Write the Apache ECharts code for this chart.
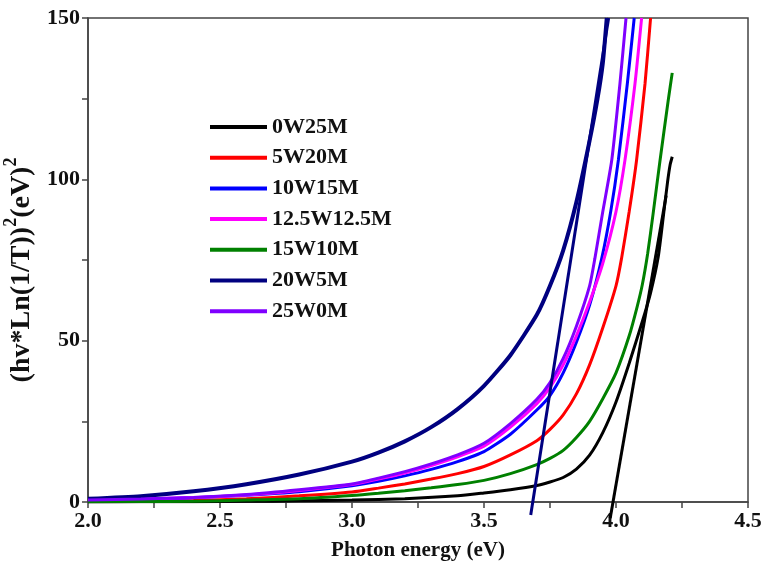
<!DOCTYPE html>
<html>
<head>
<meta charset="utf-8">
<script src="https://cdn.jsdelivr.net/npm/echarts@6/dist/echarts.min.js"></script>
<style>
  html, body { margin: 0; padding: 0; background: #fff; }
  #container { width: 763px; height: 578px; }
</style>
</head>
<body>
<div id="container"></div>
<script>
// sample names, legend order
var seriesNames = ['0W25M', '5W20M', '10W15M', '12.5W12.5M', '15W10M', '20W5M', '25W0M'];
var seriesColors = ['#000000', '#ff0000', '#0000ff', '#ff00ff', '#008000', '#000080', '#7f00ff'];

// [photon energy (eV), (hv*ln(1/T))^2]
var data0W25M = [[2.0,0],[2.2,0.05],[2.4,0.1],[2.6,0.2],[2.8,0.35],[3.0,0.6],[3.2,1.0],[3.4,1.9],[3.5,2.8],[3.6,3.8],
    [3.7,5.1],[3.75,6.2],[3.8,7.6],[3.85,10.2],[3.9,14.5],[3.95,21.5],[4.0,31],[4.05,43],[4.1,56],[4.13,64.5],[4.16,76],[4.18,89],[4.195,99],[4.205,104.5],[4.213,107]];
var data5W20M = [[2.0,0.2],[2.2,0.3],[2.4,0.5],[2.6,1.0],[2.8,1.9],[3.0,3.1],[3.1,4.3],[3.2,5.6],[3.3,7.1],[3.4,8.8],[3.5,11],[3.6,14.6],
    [3.7,19],[3.75,22.5],[3.8,27],[3.85,33.5],[3.9,42.5],[3.95,54],[4.0,67],[4.021,75.5],[4.05,90],[4.078,106],[4.11,129.7],[4.131,150]];
var data10W15M = [[2.0,0.5],[2.2,0.8],[2.4,1.3],[2.6,2.1],[2.8,3.2],[3.0,5.0],[3.1,6.4],[3.2,8.1],[3.3,10.1],[3.4,12.5],[3.5,15.6],[3.6,21],
    [3.7,28.5],[3.75,33],[3.8,40],[3.85,49.5],[3.9,61],[3.946,75.5],[3.98,90],[4.009,106],[4.043,129.7],[4.069,150]];
var data12W12M = [[2.0,0.6],[2.2,0.9],[2.4,1.4],[2.6,2.2],[2.8,3.6],[3.0,5.4],[3.1,7.1],[3.2,9],[3.3,11.3],[3.4,14],[3.5,17.3],[3.6,23.2],
    [3.7,30.5],[3.75,35.5],[3.8,42.5],[3.85,51.5],[3.9,62],[3.95,74],[4.0,90],[4.034,106],[4.072,129.7],[4.097,150]];
var data15W10M = [[2.0,0.1],[2.2,0.15],[2.4,0.25],[2.6,0.6],[2.8,1.0],[3.0,2.0],[3.1,2.7],[3.2,3.5],[3.3,4.4],[3.4,5.4],[3.5,6.7],[3.6,8.8],
    [3.7,11.6],[3.75,13.5],[3.8,16],[3.85,20],[3.9,25],[3.95,32],[4.0,40],[4.05,51.5],[4.08,60.5],[4.1,67.5],[4.12,77],[4.14,89],[4.167,106],[4.198,124.6],[4.213,133]];
var data20W5M = [[2.0,1.0],[2.2,1.8],[2.4,3.3],[2.6,5.5],[2.8,8.5],[3.0,12.5],[3.1,15.3],[3.2,18.8],[3.3,23.2],[3.4,28.8],[3.5,36],
    [3.6,45.5],[3.7,58],[3.75,67],[3.8,78],[3.85,93],[3.9,112],[3.93,125],[3.95,136],[3.965,150]];
var data25W0M = [[2.0,0.6],[2.2,0.9],[2.4,1.4],[2.6,2.3],[2.8,3.8],[3.0,5.6],[3.1,7.4],[3.2,9.4],[3.3,11.8],[3.4,14.6],[3.5,18.2],[3.6,24.3],
    [3.7,31.8],[3.75,37],[3.8,44.5],[3.85,54.5],[3.9,67],[3.92,75.5],[3.95,90],[3.984,106],[4.015,129.7],[4.038,150]];

// linear extrapolation lines (band gap)
var fit20W5M = [[3.677,-4],[3.972,150]];
var fit0W25M = [[3.978,-5],[4.19,95]];

var xTicks = [2.0, 2.5, 3.0, 3.5, 4.0, 4.5];
var yTicks = [0, 50, 100, 150];

var seriesData = [data0W25M, data5W20M, data10W15M, data12W12M, data15W10M, data20W5M, data25W0M];

var font = 'Liberation Serif';
var dom = document.getElementById('container');
var myChart = echarts.init(dom);

var series = [];
seriesNames.forEach(function(name, i) {
    series.push({
        name: name,
        type: 'line',
        data: seriesData[i],
        symbol: 'none',
        smooth: 0.2,
        lineStyle: {color: seriesColors[i], width: name === '20W5M' ? 4 : 3},
        itemStyle: {color: seriesColors[i]},
        z: 3
    });
});
series.push({
    type: 'line', data: fit20W5M, symbol: 'none', clip: false,
    lineStyle: {color: '#000080', width: 3}, z: 4
});
series.push({
    type: 'line', data: fit0W25M, symbol: 'none', clip: false,
    lineStyle: {color: '#000000', width: 3}, z: 4
});

var option = {
    animation: false,
    backgroundColor: '#fff',
    grid: {
        left: 88, right: 15, top: 18, bottom: 76,
        containLabel: false, outerBoundsMode: 'none',
        show: true, borderColor: '#444', borderWidth: 1.5
    },
    legend: {
        data: seriesNames,
        orient: 'vertical',
        left: 210, top: 116, padding: 0,
        icon: 'rect',
        itemWidth: 57, itemHeight: 4, itemGap: 8.7,
        textStyle: {fontFamily: font, fontWeight: 'bold', fontSize: 22, lineHeight: 22, color: '#111'}
    },
    xAxis: {
        type: 'value',
        min: 2.0, max: 4.5, interval: 0.25,
        name: 'Photon energy (eV)',
        nameLocation: 'middle', nameGap: 38,
        nameTextStyle: {fontFamily: font, fontWeight: 'bold', fontSize: 21, color: '#111'},
        axisLine: {lineStyle: {color: '#444', width: 1.5}},
        axisTick: {inside: false, length: 6, lineStyle: {color: '#444', width: 1.5}},
        splitLine: {show: false},
        axisLabel: {
            fontFamily: font, fontWeight: 'bold', fontSize: 22, color: '#111', margin: 8,
            formatter: function(v) {
                var hit = xTicks.filter(function(t) { return Math.abs(t - v) < 1e-6; });
                return hit.length ? v.toFixed(1) : '';
            }
        }
    },
    yAxis: {
        type: 'value',
        min: 0, max: 150, interval: 25,
        name: '{t|(hv*Ln(1/T))}{s|2}{t|(eV)}{s|2}',
        nameLocation: 'middle', nameGap: 46, nameRotate: 90,
        nameTextStyle: {
            padding: [0, 20, 0, 0],
            rich: {
                t: {fontFamily: font, fontWeight: 'bold', fontSize: 28, color: '#111', lineHeight: 34, verticalAlign: 'bottom'},
                s: {fontFamily: font, fontWeight: 'bold', fontSize: 18, color: '#111', lineHeight: 34, verticalAlign: 'top'}
            }
        },
        axisLine: {show: true, lineStyle: {color: '#444', width: 1.5}},
        axisTick: {show: true, inside: false, length: 6, lineStyle: {color: '#444', width: 1.5}},
        splitLine: {show: false},
        axisLabel: {
            fontFamily: font, fontWeight: 'bold', fontSize: 22, color: '#111', margin: 8,
            formatter: function(v) {
                return yTicks.indexOf(v) >= 0 ? String(v) : '';
            }
        }
    },
    series: series
};
myChart.setOption(option, true);
</script>
</body>
</html>
